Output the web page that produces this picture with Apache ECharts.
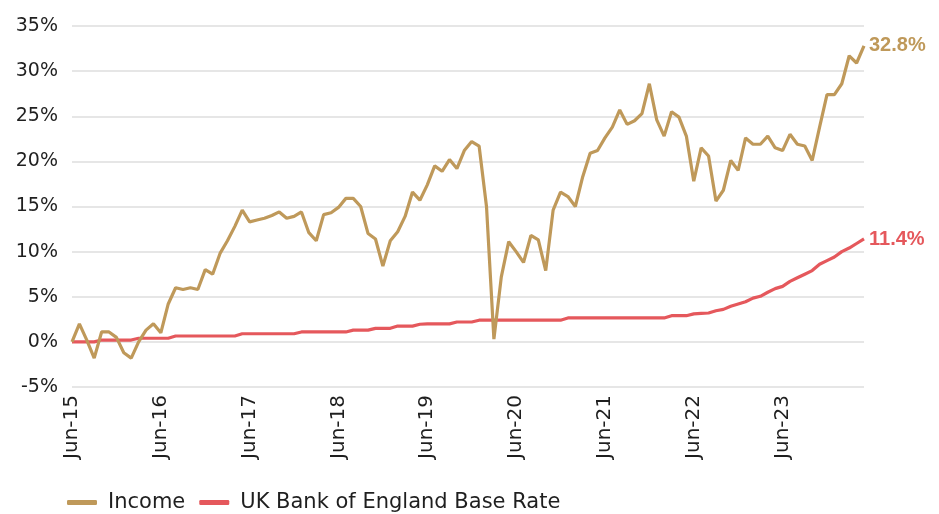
<!DOCTYPE html>
<html>
<head>
<meta charset="utf-8">
<script src="https://cdn.jsdelivr.net/npm/echarts@6/dist/echarts.min.js"></script>
<style>
  html, body { margin: 0; padding: 0; background: #fff; }
  #chart { width: 939px; height: 514px; }
</style>
</head>
<body>
<div id="chart"></div>
<script>
// monthly, Jun-15 .. May-24
const MONTHS = ['Jan', 'Feb', 'Mar', 'Apr', 'May', 'Jun', 'Jul', 'Aug', 'Sep', 'Oct', 'Nov', 'Dec']
const categories = []
for (let i = 0; i < 108; i++) {
  const m = (5 + i) % 12
  const y = 15 + Math.floor((5 + i) / 12)
  categories.push(MONTHS[m] + '-' + y)
}

const income = [
  0.0, 2.0, 0.2, -1.8, 1.1, 1.1, 0.5, -1.2, -1.8, 0.0,
  1.3, 2.0, 1.0, 4.2, 6.0, 5.8, 6.0, 5.8, 8.0, 7.5,
  9.8, 11.2, 12.8, 14.6, 13.3, 13.5, 13.7, 14.0, 14.4, 13.7,
  13.9, 14.4, 12.1, 11.2, 14.1, 14.3, 14.9, 15.9, 15.9, 15.0,
  12.0, 11.4, 8.4, 11.2, 12.2, 13.9, 16.6, 15.7, 17.4, 19.5,
  18.9, 20.2, 19.2, 21.2, 22.2, 21.7, 15.0, 0.3, 7.2, 11.1,
  10.0, 8.8, 11.8, 11.3, 7.9, 14.6, 16.6, 16.1, 15.0, 18.3,
  20.9, 21.2, 22.6, 23.8, 25.7, 24.1, 24.5, 25.3, 28.6, 24.6,
  22.8, 25.5, 24.9, 22.8, 17.8, 21.5, 20.6, 15.6, 16.8, 20.1,
  19.0, 22.6, 21.9, 21.9, 22.8, 21.5, 21.2, 23.0, 21.9, 21.7,
  20.1, 23.8, 27.4, 27.4, 28.6, 31.7, 30.9, 32.8
]

const baseRate = [
  0, 0, 0, 0, 0.2, 0.2, 0.2, 0.2, 0.2, 0.4,
  0.4, 0.4, 0.4, 0.4, 0.65, 0.65, 0.65, 0.65, 0.65, 0.65,
  0.65, 0.65, 0.65, 0.9, 0.9, 0.9, 0.9, 0.9, 0.9, 0.9,
  0.9, 1.1, 1.1, 1.1, 1.1, 1.1, 1.1, 1.1, 1.3, 1.3,
  1.3, 1.5, 1.5, 1.5, 1.75, 1.75, 1.75, 1.95, 2.0, 2.0,
  2.0, 2.0, 2.2, 2.2, 2.2, 2.4, 2.4, 2.4, 2.4, 2.4,
  2.4, 2.4, 2.4, 2.4, 2.4, 2.4, 2.4, 2.65, 2.65, 2.65,
  2.65, 2.65, 2.65, 2.65, 2.65, 2.65, 2.65, 2.65, 2.65, 2.65,
  2.65, 2.9, 2.9, 2.9, 3.1, 3.15, 3.2, 3.45, 3.6, 3.95,
  4.2, 4.45, 4.85, 5.05, 5.5, 5.9, 6.15, 6.7, 7.1, 7.5,
  7.9, 8.6, 9.0, 9.4, 10.0, 10.4, 10.9, 11.4
]

const INCOME_COLOR = '#BF995A'
const BASE_COLOR = '#E5585C'
const TEXT_COLOR = '#1F1F1F'
const FONT = 'DejaVu Sans'

const chart = echarts.init(document.getElementById('chart'))
chart.setOption({
  animation: false,
  grid: { left: 72, right: 75, top: 26, bottom: 127 },
  legend: {
    left: 62,
    top: 487,
    icon: 'roundRect',
    itemWidth: 30,
    itemHeight: 5,
    itemGap: 14,
    textStyle: { fontFamily: FONT, fontSize: 21, color: TEXT_COLOR, padding: [0, 0, 0, 6] },
    data: ['Income', 'UK Bank of England Base Rate'],
  },
  xAxis: {
    type: 'category',
    data: categories,
    boundaryGap: false,
    axisLine: { show: false },
    axisTick: { show: false },
    axisLabel: {
      interval: 11,
      rotate: 90,
      margin: 8,
      fontFamily: FONT,
      fontSize: 20,
      color: TEXT_COLOR,
    },
  },
  yAxis: {
    type: 'value',
    min: -5,
    max: 35,
    interval: 5,
    axisLabel: {
      formatter: '{value}%',
      margin: 14,
      fontFamily: FONT,
      fontSize: 19,
      color: TEXT_COLOR,
    },
    splitLine: { lineStyle: { color: '#E6E6E6', width: 2 } },
  },
  series: [
    {
      name: 'UK Bank of England Base Rate',
      type: 'line',
      data: baseRate,
      symbol: 'none',
      z: 2,
      lineStyle: { width: 3.2, color: BASE_COLOR },
      itemStyle: { color: BASE_COLOR },
      endLabel: {
        show: true,
        distance: 5,
        formatter: p => p.value.toFixed(1) + '%',
        color: BASE_COLOR,
        fontFamily: 'Liberation Sans',
        fontWeight: 'bold',
        fontSize: 20,
      },
    },
    {
      name: 'Income',
      type: 'line',
      data: income,
      symbol: 'none',
      z: 3,
      lineStyle: { width: 3.2, color: INCOME_COLOR },
      itemStyle: { color: INCOME_COLOR },
      endLabel: {
        show: true,
        distance: 5,
        formatter: p => p.value.toFixed(1) + '%',
        color: INCOME_COLOR,
        fontFamily: 'Liberation Sans',
        fontWeight: 'bold',
        fontSize: 20,
      },
    },
  ],
})
</script>
</body>
</html>
